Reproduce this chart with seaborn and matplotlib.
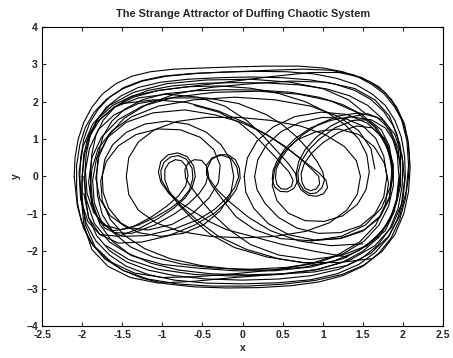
import numpy as np
import pandas as pd
import matplotlib
matplotlib.use('Agg')
import matplotlib.pyplot as plt
import seaborn as sns

# hand-read trajectory pieces of the attractor, as (x, y) points
outer_a = [(-2.1, 0.0), (-2.09, 0.5), (-2.05, 1.0), (-1.98, 1.45), (-1.88, 1.85), (-1.75, 2.2), (-1.58, 2.48),
           (-1.38, 2.68), (-1.15, 2.8), (-0.85, 2.87), (-0.5, 2.9), (-0.1, 2.93), (0.3, 2.95), (0.7, 2.95),
           (1.0, 2.9), (1.25, 2.8), (1.45, 2.65), (1.62, 2.45), (1.77, 2.2), (1.9, 1.85), (2.0, 1.45),
           (2.06, 1.0), (2.08, 0.5), (2.07, 0.0), (2.03, -0.6), (1.96, -1.15), (1.85, -1.65), (1.7, -2.05),
           (1.5, -2.4), (1.25, -2.65), (0.95, -2.82), (0.6, -2.92), (0.2, -2.97), (-0.2, -2.98), (-0.6, -2.95),
           (-0.95, -2.87), (-1.25, -2.72), (-1.5, -2.5), (-1.7, -2.2), (-1.86, -1.85), (-1.98, -1.4),
           (-2.06, -0.8), (-2.1, 0.0)]
outer_b = [(-2.03, 0.0), (-2.02, 0.5), (-1.98, 1.0), (-1.91, 1.42), (-1.8, 1.8), (-1.66, 2.12), (-1.48, 2.38),
           (-1.26, 2.56), (-1.0, 2.68), (-0.65, 2.75), (-0.25, 2.79), (0.15, 2.81), (0.55, 2.8), (0.9, 2.74),
           (1.18, 2.62), (1.42, 2.45), (1.62, 2.2), (1.78, 1.9), (1.9, 1.5), (1.98, 1.05), (2.02, 0.55),
           (2.03, 0.0), (2.0, -0.6), (1.93, -1.15), (1.82, -1.62), (1.66, -2.02), (1.45, -2.35), (1.18, -2.6),
           (0.85, -2.76), (0.45, -2.84), (0.0, -2.87), (-0.45, -2.85), (-0.85, -2.77), (-1.18, -2.62),
           (-1.45, -2.4), (-1.66, -2.1), (-1.83, -1.72), (-1.95, -1.25), (-2.01, -0.65), (-2.03, 0.0)]
outer_c = [(-1.97, 0.0), (-1.95, 0.6), (-1.9, 1.1), (-1.82, 1.5), (-1.7, 1.85), (-1.52, 2.15), (-1.3, 2.38),
           (-1.02, 2.52), (-0.68, 2.6), (-0.3, 2.64), (0.1, 2.66), (0.5, 2.64), (0.85, 2.58), (1.15, 2.47),
           (1.4, 2.3), (1.6, 2.06), (1.76, 1.74), (1.88, 1.35), (1.96, 0.88), (2.0, 0.35), (1.99, -0.25),
           (1.94, -0.85), (1.84, -1.38), (1.69, -1.83), (1.48, -2.2), (1.2, -2.48), (0.86, -2.65), (0.45, -2.74),
           (0.0, -2.77), (-0.45, -2.74), (-0.85, -2.65), (-1.18, -2.5), (-1.45, -2.28), (-1.66, -1.98),
           (-1.82, -1.58), (-1.92, -1.1), (-1.96, -0.55), (-1.97, 0.0)]
outer_d = [(-1.9, 0.0), (-1.88, 0.6), (-1.83, 1.1), (-1.74, 1.5), (-1.6, 1.84), (-1.42, 2.1), (-1.18, 2.3),
           (-0.88, 2.42), (-0.5, 2.49), (-0.1, 2.51), (0.3, 2.5), (0.7, 2.45), (1.05, 2.34), (1.33, 2.16),
           (1.56, 1.9), (1.74, 1.55), (1.86, 1.1), (1.93, 0.58), (1.95, 0.0), (1.92, -0.6), (1.84, -1.15),
           (1.7, -1.62), (1.5, -2.0), (1.24, -2.3), (0.9, -2.5), (0.5, -2.6), (0.05, -2.63), (-0.4, -2.6),
           (-0.8, -2.5), (-1.14, -2.32), (-1.42, -2.06), (-1.63, -1.72), (-1.78, -1.28), (-1.87, -0.7), (-1.9, 0.0)]
outer_e = [(-1.82, 0.0), (-1.8, 0.6), (-1.74, 1.08), (-1.63, 1.48), (-1.47, 1.8), (-1.25, 2.05), (-0.97, 2.21),
           (-0.6, 2.29), (-0.2, 2.32), (0.2, 2.31), (0.6, 2.25), (0.95, 2.12), (1.25, 1.92), (1.5, 1.64),
           (1.68, 1.28), (1.81, 0.84), (1.88, 0.32), (1.88, -0.25), (1.82, -0.8), (1.7, -1.3), (1.52, -1.72),
           (1.26, -2.06), (0.94, -2.3), (0.55, -2.43), (0.1, -2.48), (-0.35, -2.45), (-0.76, -2.34),
           (-1.12, -2.15), (-1.4, -1.88), (-1.61, -1.5), (-1.75, -1.02), (-1.81, -0.5), (-1.82, 0.0)]
outer_g = [(-2.07, -0.3), (-2.07, 0.3), (-2.03, 0.85), (-1.96, 1.32), (-1.85, 1.72), (-1.7, 2.06), (-1.5, 2.34),
           (-1.25, 2.55), (-0.95, 2.68), (-0.55, 2.76), (-0.1, 2.8), (0.35, 2.84), (0.75, 2.87), (1.1, 2.84),
           (1.38, 2.72), (1.6, 2.52), (1.78, 2.24), (1.92, 1.86), (2.02, 1.4), (2.07, 0.85), (2.09, 0.25),
           (2.07, -0.4), (2.01, -1.0), (1.9, -1.55), (1.74, -2.0), (1.52, -2.36), (1.24, -2.62), (0.9, -2.78),
           (0.5, -2.88), (0.05, -2.93), (-0.4, -2.93), (-0.82, -2.87), (-1.18, -2.74), (-1.48, -2.52),
           (-1.72, -2.2), (-1.9, -1.75), (-2.01, -1.2), (-2.06, -0.7), (-2.07, -0.3)]
outer_h = [(-2.0, 0.0), (-1.98, 0.6), (-1.92, 1.1), (-1.8, 1.55), (-1.62, 1.9), (-1.38, 2.15), (-1.05, 2.3),
           (-0.6, 2.42), (-0.1, 2.55), (0.4, 2.68), (0.85, 2.78), (1.2, 2.78), (1.48, 2.65), (1.7, 2.4),
           (1.86, 2.05), (1.98, 1.55), (2.05, 0.95), (2.07, 0.3), (2.04, -0.4), (1.96, -1.05), (1.82, -1.6),
           (1.6, -2.05), (1.3, -2.38), (0.9, -2.55), (0.4, -2.62), (-0.1, -2.7), (-0.6, -2.8), (-1.05, -2.85),
           (-1.4, -2.7), (-1.68, -2.4), (-1.88, -1.95), (-1.98, -1.3), (-2.01, -0.6), (-2.0, 0.0)]

trans_a = [(-2.0, -0.6), (-2.0, 0.0), (-1.97, 0.6), (-1.9, 1.1), (-1.78, 1.52), (-1.6, 1.86), (-1.36, 2.12),
           (-1.05, 2.3), (-0.68, 2.4), (-0.28, 2.42), (0.1, 2.36), (0.45, 2.22), (0.78, 2.0), (1.05, 1.72),
           (1.28, 1.38), (1.45, 1.0), (1.55, 0.58), (1.58, 0.12), (1.54, -0.35), (1.43, -0.75), (1.25, -1.05),
           (1.02, -1.2), (0.78, -1.18), (0.57, -0.98), (0.43, -0.65), (0.37, -0.25), (0.4, 0.2), (0.5, 0.62),
           (0.68, 0.98), (0.92, 1.2), (1.2, 1.27), (1.45, 1.12), (1.64, 0.8), (1.77, 0.35), (1.82, -0.18),
           (1.78, -0.75), (1.66, -1.3), (1.46, -1.75), (1.18, -2.1), (0.82, -2.35), (0.38, -2.5), (-0.1, -2.6),
           (-0.58, -2.68), (-1.0, -2.7), (-1.35, -2.58), (-1.63, -2.3), (-1.84, -1.88), (-1.96, -1.3), (-2.0, -0.6)]
trans_b = [(1.97, 0.6), (1.97, 0.0), (1.93, -0.62), (1.84, -1.15), (1.68, -1.6), (1.45, -1.98), (1.15, -2.25),
           (0.78, -2.42), (0.35, -2.5), (-0.1, -2.48), (-0.52, -2.38), (-0.9, -2.2), (-1.22, -1.93), (-1.47, -1.58),
           (-1.65, -1.15), (-1.75, -0.65), (-1.77, -0.12), (-1.7, 0.4), (-1.55, 0.82), (-1.33, 1.12), (-1.06, 1.27),
           (-0.78, 1.25), (-0.53, 1.05), (-0.36, 0.72), (-0.28, 0.3), (-0.3, -0.15), (-0.42, -0.58), (-0.62, -0.98),
           (-0.88, -1.28), (-1.18, -1.43), (-1.45, -1.36), (-1.65, -1.05), (-1.78, -0.6), (-1.83, -0.05),
           (-1.79, 0.55), (-1.67, 1.1), (-1.48, 1.55), (-1.2, 1.92), (-0.85, 2.2), (-0.4, 2.38), (0.1, 2.48),
           (0.6, 2.55), (1.05, 2.52), (1.4, 2.35), (1.65, 2.05), (1.83, 1.62), (1.93, 1.1), (1.97, 0.6)]

# long runs with the small curls in both wells
curl_a = [(1.3, -2.15), (0.9, -2.0), (0.5, -1.82), (0.15, -1.62), (-0.2, -1.42), (-0.4, -1.22), (-0.58, -0.98),
          (-0.78, -0.7), (-0.93, -0.4), (-1.01, -0.1), (-1.02, 0.15), (-0.98, 0.38), (-0.9, 0.52), (-0.8, 0.56),
          (-0.7, 0.46), (-0.63, 0.22), (-0.62, -0.05), (-0.66, -0.35), (-0.76, -0.62), (-0.9, -0.85),
          (-1.08, -1.08), (-1.3, -1.3), (-1.52, -1.42), (-1.72, -1.3), (-1.86, -0.95), (-1.94, -0.45),
          (-1.96, 0.15), (-1.91, 0.75), (-1.8, 1.25), (-1.6, 1.65), (-1.3, 1.95), (-0.9, 2.1), (-0.45, 2.1),
          (-0.05, 1.95), (0.3, 1.65), (0.5, 1.38), (0.68, 1.05), (0.82, 0.72), (0.93, 0.4), (1.0, 0.12),
          (1.02, -0.1), (0.99, -0.3), (0.92, -0.44), (0.84, -0.46), (0.76, -0.36), (0.7, -0.15), (0.69, 0.1),
          (0.73, 0.4), (0.82, 0.7), (0.96, 1.0), (1.15, 1.3), (1.38, 1.5), (1.6, 1.52), (1.78, 1.3), (1.9, 0.9),
          (1.97, 0.35), (1.97, -0.25), (1.9, -0.85), (1.76, -1.4), (1.55, -1.85), (1.25, -2.2), (0.85, -2.42),
          (0.4, -2.52), (-0.1, -2.52), (-0.55, -2.45), (-1.0, -2.35), (-1.38, -2.12), (-1.66, -1.75),
          (-1.85, -1.25), (-1.95, -0.6), (-1.98, 0.0)]
curl_b = [(-1.95, 0.9), (-1.82, 1.45), (-1.6, 1.85), (-1.3, 2.1), (-0.95, 2.2), (-0.55, 2.12), (-0.22, 1.88),
          (0.05, 1.5), (0.25, 1.1), (0.42, 0.7), (0.57, 0.35), (0.66, 0.08), (0.68, -0.15), (0.64, -0.32),
          (0.56, -0.41), (0.47, -0.4), (0.4, -0.28), (0.37, -0.08), (0.38, 0.15), (0.43, 0.42), (0.52, 0.72),
          (0.66, 1.02), (0.85, 1.3), (1.1, 1.5), (1.35, 1.6), (1.57, 1.52), (1.73, 1.25), (1.83, 0.82),
          (1.87, 0.28), (1.84, -0.3), (1.73, -0.85), (1.53, -1.3), (1.23, -1.6), (0.86, -1.72), (0.47, -1.66),
          (0.15, -1.42), (-0.08, -1.08), (-0.25, -0.62), (-0.38, -0.25), (-0.45, 0.05), (-0.45, 0.3),
          (-0.38, 0.5), (-0.26, 0.57), (-0.14, 0.48), (-0.07, 0.25), (-0.05, -0.02), (-0.1, -0.3), (-0.2, -0.58),
          (-0.35, -0.88), (-0.55, -1.15), (-0.85, -1.4), (-1.2, -1.58), (-1.5, -1.6), (-1.72, -1.38),
          (-1.85, -0.95), (-1.9, -0.4), (-1.88, 0.2), (-1.8, 0.75), (-1.63, 1.22), (-1.38, 1.6), (-1.05, 1.88),
          (-0.6, 2.05), (-0.1, 2.12), (0.4, 2.05), (0.85, 1.88), (1.2, 1.6), (1.45, 1.22), (1.6, 0.75), (1.65, 0.2)]
curl_c = [(1.9, -0.9), (1.78, -1.45), (1.55, -1.85), (1.22, -2.12), (0.85, -2.22), (0.45, -2.1), (0.1, -1.82),
          (-0.15, -1.45), (-0.35, -1.05), (-0.5, -0.68), (-0.63, -0.32), (-0.71, -0.05), (-0.72, 0.18),
          (-0.68, 0.36), (-0.6, 0.45), (-0.51, 0.43), (-0.45, 0.28), (-0.43, 0.05), (-0.46, -0.2), (-0.54, -0.45),
          (-0.67, -0.72), (-0.85, -1.0), (-1.1, -1.3), (-1.38, -1.52), (-1.6, -1.5), (-1.76, -1.2), (-1.85, -0.7),
          (-1.87, -0.1), (-1.82, 0.5), (-1.68, 1.05), (-1.45, 1.45), (-1.12, 1.7), (-0.72, 1.78), (-0.35, 1.65),
          (-0.02, 1.45), (0.28, 1.15), (0.52, 0.82), (0.72, 0.48), (0.86, 0.2), (0.95, 0.0), (0.96, -0.2),
          (0.92, -0.33), (0.85, -0.38), (0.78, -0.32), (0.74, -0.15), (0.73, 0.08), (0.77, 0.35), (0.86, 0.62),
          (1.0, 0.9), (1.2, 1.18), (1.42, 1.35), (1.62, 1.3), (1.77, 1.02), (1.85, 0.55), (1.87, 0.0),
          (1.83, -0.55), (1.72, -1.05), (1.52, -1.42), (1.22, -1.65), (0.85, -1.72)]
curl_d = [(1.6, -2.2), (1.2, -2.3), (0.75, -2.3), (0.3, -2.15), (-0.1, -1.9), (-0.4, -1.55), (-0.62, -1.15),
          (-0.8, -0.75), (-0.92, -0.38), (-0.97, -0.08), (-0.97, 0.18), (-0.92, 0.36), (-0.84, 0.45),
          (-0.76, 0.42), (-0.7, 0.26), (-0.68, 0.02), (-0.71, -0.25), (-0.8, -0.52), (-0.95, -0.8), (-1.15, -1.1),
          (-1.4, -1.38), (-1.62, -1.45), (-1.78, -1.22), (-1.88, -0.75), (-1.92, -0.15), (-1.88, 0.5),
          (-1.76, 1.05), (-1.55, 1.52), (-1.25, 1.88), (-0.85, 2.12), (-0.35, 2.25), (0.2, 2.28), (0.7, 2.2),
          (1.1, 2.02), (1.42, 1.72), (1.65, 1.32), (1.8, 0.8), (1.87, 0.2)]
curl_e = [(0.9, -2.35), (0.45, -2.2), (0.05, -1.95), (-0.3, -1.6), (-0.55, -1.2), (-0.76, -0.8), (-0.92, -0.45),
          (-1.02, -0.15), (-1.05, 0.12), (-1.02, 0.4), (-0.93, 0.58), (-0.81, 0.63), (-0.69, 0.53), (-0.61, 0.28),
          (-0.59, 0.0), (-0.63, -0.3), (-0.72, -0.58), (-0.86, -0.85), (-1.05, -1.12), (-1.3, -1.4),
          (-1.55, -1.6), (-1.78, -1.55), (-1.93, -1.2), (-2.02, -0.6), (-2.04, 0.1), (-1.99, 0.8), (-1.87, 1.4),
          (-1.66, 1.9), (-1.36, 2.25), (-0.95, 2.48), (-0.45, 2.58), (0.1, 2.6), (0.6, 2.52), (1.0, 2.35),
          (1.32, 2.05), (1.55, 1.65)]
curl_f = [(-1.5, 1.95), (-1.1, 2.05), (-0.7, 1.98), (-0.3, 1.75), (0.05, 1.42), (0.35, 1.05), (0.6, 0.68),
          (0.8, 0.35), (0.95, 0.1), (1.04, -0.1), (1.06, -0.3), (1.01, -0.46), (0.92, -0.53), (0.82, -0.5),
          (0.73, -0.36), (0.68, -0.15), (0.67, 0.1), (0.7, 0.4), (0.78, 0.72), (0.92, 1.05), (1.1, 1.35),
          (1.32, 1.58), (1.56, 1.68), (1.76, 1.5), (1.9, 1.12), (1.99, 0.55), (2.02, -0.1), (1.98, -0.75),
          (1.86, -1.35), (1.65, -1.85), (1.35, -2.22), (0.95, -2.48), (0.45, -2.62), (-0.1, -2.66), (-0.6, -2.62),
          (-1.05, -2.48), (-1.42, -2.22), (-1.7, -1.85)]
curl_g = [(-0.6, 1.9), (-0.3, 1.72), (-0.05, 1.45), (0.15, 1.1), (0.32, 0.72), (0.47, 0.38), (0.58, 0.12),
          (0.63, -0.1), (0.61, -0.26), (0.55, -0.34), (0.48, -0.33), (0.43, -0.22), (0.41, -0.04), (0.42, 0.2),
          (0.48, 0.48), (0.58, 0.78), (0.74, 1.1), (0.95, 1.4), (1.2, 1.62), (1.45, 1.7), (1.68, 1.58),
          (1.84, 1.25), (1.94, 0.75), (1.97, 0.15), (1.93, -0.5)]
curl_h = [(1.5, -1.8), (1.1, -1.85), (0.7, -1.72), (0.35, -1.45), (0.08, -1.1), (-0.15, -0.7), (-0.32, -0.35),
          (-0.42, -0.05), (-0.44, 0.22), (-0.39, 0.45), (-0.29, 0.58), (-0.18, 0.58), (-0.09, 0.45), (-0.04, 0.22),
          (-0.03, -0.05), (-0.08, -0.35), (-0.18, -0.65), (-0.35, -0.98), (-0.6, -1.3), (-0.92, -1.58),
          (-1.25, -1.75), (-1.55, -1.78), (-1.78, -1.55), (-1.92, -1.1), (-1.98, -0.45)]

right_a = [(0.15, 0.0), (0.19, 0.45), (0.3, 0.85), (0.48, 1.2), (0.72, 1.45), (1.0, 1.58), (1.28, 1.55),
           (1.5, 1.35), (1.66, 1.02), (1.76, 0.55), (1.8, 0.0), (1.76, -0.55), (1.65, -1.0), (1.47, -1.32),
           (1.22, -1.5), (0.95, -1.52), (0.68, -1.38), (0.45, -1.1), (0.28, -0.72), (0.18, -0.35), (0.15, 0.0)]
right_c = [(0.02, 0.0), (0.06, 0.5), (0.18, 0.95), (0.38, 1.32), (0.65, 1.6), (0.98, 1.72), (1.3, 1.66),
           (1.56, 1.42), (1.74, 1.05), (1.84, 0.55), (1.87, 0.0), (1.83, -0.6), (1.71, -1.1), (1.5, -1.46),
           (1.22, -1.66), (0.9, -1.7), (0.58, -1.56), (0.32, -1.26), (0.14, -0.85), (0.04, -0.42), (0.02, 0.0)]
left_a = [(-1.75, 0.0), (-1.72, 0.45), (-1.62, 0.85), (-1.45, 1.18), (-1.22, 1.4), (-0.95, 1.48), (-0.68, 1.4),
          (-0.45, 1.18), (-0.27, 0.85), (-0.15, 0.45), (-0.11, 0.0), (-0.15, -0.48), (-0.28, -0.92),
          (-0.48, -1.28), (-0.74, -1.52), (-1.02, -1.6), (-1.3, -1.5), (-1.52, -1.24), (-1.67, -0.85),
          (-1.74, -0.42), (-1.75, 0.0)]
mid_a = [(-1.45, 0.0), (-1.42, 0.5), (-1.3, 0.92), (-1.1, 1.25), (-0.82, 1.47), (-0.45, 1.58), (-0.05, 1.58),
         (0.35, 1.5), (0.72, 1.35), (1.03, 1.12), (1.27, 0.8), (1.42, 0.42), (1.47, 0.0), (1.43, -0.48),
         (1.3, -0.9), (1.08, -1.24), (0.78, -1.47), (0.4, -1.6), (0.0, -1.64), (-0.4, -1.6), (-0.78, -1.47),
         (-1.08, -1.24), (-1.3, -0.9), (-1.42, -0.48), (-1.45, 0.0)]

x_ticks = [-2.5, -2, -1.5, -1, -0.5, 0, 0.5, 1, 1.5, 2, 2.5]
x_tick_labels = ['-2.5', '-2', '-1.5', '-1', '-0.5', '0', '0.5', '1', '1.5', '2', '2.5']
y_ticks = [-4, -3, -2, -1, 0, 1, 2, 3, 4]

pieces = [outer_a, outer_b, outer_c, outer_d, outer_e, outer_g, outer_h,
          trans_a, trans_b, curl_a, curl_b, curl_c, curl_d, curl_e, curl_f, curl_g, curl_h,
          right_a, right_c, left_a, mid_a]

frames = []
for i, pts in enumerate(pieces):
    px, py = zip(*pts)
    frames.append(pd.DataFrame({'x': px, 'y': py, 'seg': i}))
df = pd.concat(frames, ignore_index=True)

sns.set_style('ticks')
plt.rcParams['font.family'] = ['Liberation Sans', 'DejaVu Sans']
plt.rcParams['font.weight'] = 'bold'

fig = plt.figure(figsize=(4.53, 3.58), dpi=100)
ax = fig.add_axes([0.093, 0.089, 0.885, 0.836])

sns.lineplot(data=df, x='x', y='y', units='seg', estimator=None, sort=False,
             color='black', linewidth=0.8, ax=ax, legend=False)

ax.set_xlim(-2.5, 2.5)
ax.set_ylim(-4, 4)
ax.set_xticks(x_ticks)
ax.set_xticklabels(x_tick_labels)
ax.set_yticks(y_ticks)
ax.tick_params(direction='in', top=True, right=True, labelsize=7.5, length=3, width=0.8, pad=3)
for s in ax.spines.values():
    s.set_visible(True)
    s.set_linewidth(0.8)
    s.set_color('black')

ax.set_xlabel('x', fontsize=7.5, fontweight='bold', labelpad=2)
ax.set_ylabel('y', fontsize=7.5, fontweight='bold', labelpad=4)
ax.set_title('The Strange Attractor of Duffing Chaotic System', fontsize=7.9, fontweight='bold', pad=7)

fig.savefig('out.png', dpi=100)
